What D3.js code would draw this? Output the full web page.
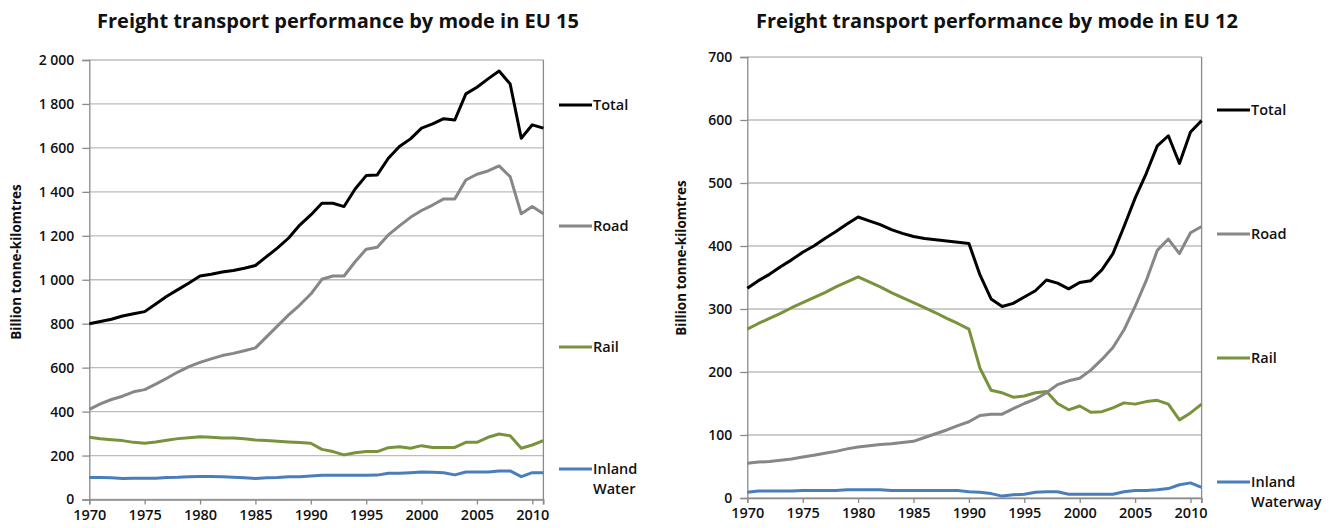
<!DOCTYPE html>
<html><head><meta charset="utf-8">
<script src="https://cdn.jsdelivr.net/npm/d3@7"></script>
<style>
body{margin:0;background:#fff;}
text{font-family:"Open Sans",sans-serif;}
</style></head>
<body><svg id="c" width="1333" height="528"></svg>
<script>
const years = d3.range(1970, 2012);
const seriesNames = ["Total", "Road", "Rail", "Inland Water"];
const seriesNames12 = ["Total", "Road", "Rail", "Inland Waterway"];

const eu15Total = [800,810,820,835,845,855,890,925,955,985,1017,1025,1035,1042,1052,1065,1105,1145,1190,1249,1295,1348,1348,1333,1413,1474,1477,1553,1606,1641,1690,1709,1733,1727,1846,1876,1914,1950,1891,1644,1705,1690];
const eu15Road = [410,435,455,470,490,500,525,552,580,605,624,640,655,665,677,690,740,790,840,885,935,1002,1017,1017,1082,1139,1148,1204,1245,1284,1315,1340,1368,1368,1454,1480,1495,1518,1469,1300,1333,1300];
const eu15Rail = [283,276,272,268,260,256,262,270,277,281,286,283,280,280,276,271,268,265,262,259,256,228,218,203,213,218,218,236,240,233,245,237,237,237,260,260,283,298,290,233,248,268];
const eu15Water = [100,100,99,96,97,97,97,100,101,104,105,105,104,101,99,96,99,100,103,104,107,110,110,110,110,110,111,119,120,122,125,124,122,112,125,125,125,130,130,104,122,122];

const eu12Total = [333,345,355,367,378,390,400,412,423,435,446,440,434,426,420,415,412,410,408,406,404,354,316,304,309,319,329,346,341,332,342,345,362,388,431,476,515,559,575,531,581,599];
const eu12Road = [55,57,58,60,62,65,68,71,74,78,81,83,85,86,88,90,96,102,108,115,121,131,133,133,142,150,157,167,180,186,190,203,220,239,267,304,345,393,411,388,421,431];
const eu12Rail = [268,277,285,293,302,310,318,326,335,343,351,343,335,326,318,310,302,294,285,277,268,206,171,167,160,162,167,169,150,140,146,136,137,143,151,149,153,155,149,124,135,149];
const eu12Water = [9,11,11,11,11,12,12,12,12,13,13,13,13,12,12,12,12,12,12,12,10,9,7,3,5,6,9,10,10,6,6,6,6,6,10,12,12,13,15,21,24,17];

const yTicks15 = d3.range(0, 2001, 200);
const yTicks12 = d3.range(0, 701, 100);
const xTicks = d3.range(1970, 2011, 5);

const colors = ["#000000", "#878787", "#77933c", "#4a7ebb"];

const loc = d3.formatLocale({decimal:".", thousands:"\u00a0", grouping:[3], currency:["",""]});
const fmt = loc.format(",");

const svg = d3.select("#c");

function chart(opts) {
  const {x0, x1, y0, y1, yMax, yTicks, data, names, title, titleX, legendY, legX} = opts;
  const x = d3.scaleLinear().domain([1970, 2011]).range([x0, x1]);
  const y = d3.scaleLinear().domain([0, yMax]).range([y0, y1]);
  const g = svg.append("g");

  g.append("g").selectAll("line").data(yTicks).join("line")
    .attr("x1", x0).attr("x2", x1)
    .attr("y1", d => y(d)).attr("y2", d => y(d))
    .attr("stroke", "#bcbcbc").attr("stroke-width", 1.3);

  const ya = g.append("g").attr("transform", `translate(${x0},0)`)
    .call(d3.axisLeft(y).tickValues(yTicks).tickFormat(fmt).tickSize(7).tickPadding(8));
  ya.select(".domain").attr("stroke", "#8a8a8a").attr("stroke-width", 1.3);
  ya.selectAll(".tick line").attr("stroke", "#8a8a8a").attr("stroke-width", 1.3);
  ya.selectAll("text").attr("font-size", 14).attr("font-weight", 600).attr("fill", "#111")
    .style("font-family", "'Open Sans',sans-serif");

  const xa = g.append("g").attr("transform", `translate(0,${y0})`)
    .call(d3.axisBottom(x).tickValues(xTicks).tickFormat(d3.format("d")).tickSize(5).tickPadding(5));
  xa.select(".domain").attr("stroke", "#8a8a8a").attr("stroke-width", 1.3);
  xa.selectAll(".tick line").attr("stroke", "#8a8a8a").attr("stroke-width", 1.3);
  xa.selectAll("text").attr("font-size", 14.5).attr("font-weight", 600).attr("fill", "#111")
    .style("font-family", "'Open Sans',sans-serif");
  xa.append("line").attr("x1", x(2011)).attr("x2", x(2011)).attr("y1", 0).attr("y2", 5)
    .attr("stroke", "#8a8a8a").attr("stroke-width", 1.3);

  g.append("line").attr("x1", x1).attr("x2", x1).attr("y1", y1).attr("y2", y0)
    .attr("stroke", "#8a8a8a").attr("stroke-width", 1.3);

  const line = d3.line().x((d, i) => x(years[i])).y(d => y(d));
  data.slice().reverse().forEach((s, ri) => {
    const i = data.length - 1 - ri;
    g.append("path").attr("d", line(s)).attr("fill", "none")
      .attr("stroke", colors[i]).attr("stroke-width", 3).attr("stroke-linejoin", "round");
  });

  names.forEach((n, i) => {
    const ly = legendY[i];
    g.append("line").attr("x1", legX).attr("x2", legX + 33).attr("y1", ly).attr("y2", ly)
      .attr("stroke", colors[i]).attr("stroke-width", 3);
    const parts = n.startsWith("Inland") ? ["Inland", n.replace("Inland ", "")] : [n];
    parts.forEach((p, k) => {
      g.append("text").attr("x", legX + 34).attr("y", ly + 5 + k * 20)
        .attr("font-size", 14.5).attr("font-weight", 600).attr("fill", "#111").text(p);
    });
  });

  g.append("text").attr("transform", `translate(${opts.yTitleX},${opts.yTitleY}) rotate(-90)`)
    .attr("text-anchor", "middle").attr("font-size", 13.5).attr("font-weight", 700)
    .attr("fill", "#111").text("Billion tonne-kilomtres");

  g.append("text").attr("x", titleX).attr("y", 28).attr("text-anchor", "middle")
    .attr("font-size", 20).attr("font-weight", 700).attr("fill", "#111").text(title);
}

chart({x0: 89.3, x1: 543.4, y0: 499.5, y1: 60, yMax: 2000, yTicks: yTicks15,
  data: [eu15Total, eu15Road, eu15Rail, eu15Water], names: seriesNames,
  title: "Freight transport performance by mode in EU 15", titleX: 338,
  legendY: [105, 226, 347, 469], legX: 559, yTitleX: 21, yTitleY: 262});

chart({x0: 747.3, x1: 1201.6, y0: 498, y1: 57, yMax: 700, yTicks: yTicks12,
  data: [eu12Total, eu12Road, eu12Rail, eu12Water], names: seriesNames12,
  title: "Freight transport performance by mode in EU 12", titleX: 997,
  legendY: [110, 234, 358, 482], legX: 1217, yTitleX: 686, yTitleY: 258});
</script></body></html>
